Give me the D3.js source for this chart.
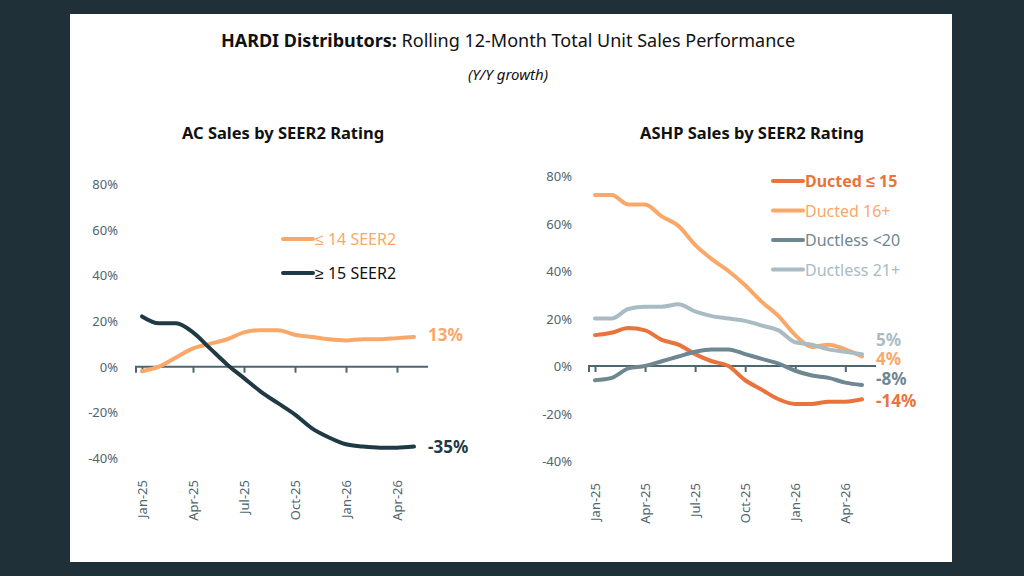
<!DOCTYPE html>
<html><head><meta charset="utf-8">
<script src="https://d3js.org/d3.v7.min.js"></script>
<style>body{margin:0;background:#1f3038;font-family:"Noto Sans",sans-serif}</style>
</head><body>
<div id="chart"></div>
<script>
var months = ["Jan-25","Feb-25","Mar-25","Apr-25","May-25","Jun-25","Jul-25","Aug-25","Sep-25","Oct-25","Nov-25","Dec-25","Jan-26","Feb-26","Mar-26","Apr-26","May-26"];
var tickMonths = ["Jan-25","Apr-25","Jul-25","Oct-25","Jan-26","Apr-26"];
var yTicks = [-40,-20,0,20,40,60,80];

// AC sales
var ac14 = [-2,0,4,8,10,12,15,16,16,14,13,12,11.5,12,12,12.5,13];
var ac15 = [22,19,19,15,8,1,-5,-11,-16,-21,-27,-31,-34,-35,-35.5,-35.5,-35];
// ASHP sales
var ducted15 = [13,14,16,15,11,9,5,2,0,-6,-10,-14,-16,-16,-15,-15,-14];
var ducted16 = [72,72,68,68,63,59,51,45,40,34,27,21,13,8,9,7,4];
var ductless20 = [-6,-5,-1,0,2,4,6,7,7,5,3,1,-2,-4,-5,-7,-8];
var ductless21 = [20,20,24,25,25,26,23,21,20,19,17,15,10,9,7,6,5];

var svg = d3.select("#chart").append("svg").attr("width",1024).attr("height",576);
svg.append("rect").attr("width",1024).attr("height",576).attr("fill","#1f3038");
svg.append("rect").attr("x",70).attr("y",14).attr("width",882).attr("height",548).attr("fill","#fff");

var title = svg.append("text").attr("x",508).attr("y",47).attr("text-anchor","middle")
  .style("font-size","18px").attr("fill","#111");
title.append("tspan").style("font-weight","bold").text("HARDI Distributors: ");
title.append("tspan").text("Rolling 12-Month Total Unit Sales Performance");
svg.append("text").attr("x",508).attr("y",80).attr("text-anchor","middle")
  .style("font-size","15px").style("font-style","italic").attr("fill","#111").text("(Y/Y growth)");

var axisCol = "#4d6670";

function panel(opt) {
  var x = d3.scalePoint().domain(months).range([opt.x0, opt.x1]);
  var y = d3.scaleLinear().domain([-40,80]).range([opt.yBottom, opt.yTop]);
  var g = svg.append("g");
  g.append("text").attr("x",opt.titleX).attr("y",139).attr("text-anchor","middle")
    .style("font-size","16.5px").style("font-weight","bold").attr("fill","#111").text(opt.title);
  g.selectAll(".yl").data(yTicks).enter().append("text")
    .attr("x",opt.yLabX).attr("y",function(d){return y(d)+5;}).attr("text-anchor","end")
    .style("font-size","13px").attr("fill",axisCol).text(function(d){return d+"%";});
  var ax = g.append("g").attr("transform","translate(0,"+y(0)+")")
    .call(d3.axisBottom(x).tickValues(tickMonths).tickSize(6).tickFormat(""));
  ax.select(".domain").attr("d","M"+(opt.x0-6)+",6V0H"+(opt.x1+14)).attr("stroke",axisCol).attr("stroke-width",2);
  ax.selectAll(".tick line").attr("stroke",axisCol).attr("stroke-width",2);
  g.selectAll(".xl").data(tickMonths).enter().append("text")
    .attr("transform",function(d){return "translate("+(x(d)+5)+","+(opt.yBottom+22)+") rotate(-90)";})
    .attr("text-anchor","end").style("font-size","13px").attr("fill",axisCol).text(function(d){return d;});
  var line = d3.line().x(function(d,i){return x(months[i]);}).y(function(d){return y(d);}).curve(d3.curveMonotoneX);
  opt.series.forEach(function(s){
    g.append("path").datum(s.values).attr("d",line).attr("fill","none")
      .attr("stroke",s.color).attr("stroke-width",4).attr("stroke-linecap","round");
    g.append("text").attr("x",opt.x1+14).attr("y",y(s.values[s.values.length-1])+s.dy+6)
      .style("font-size","17px").style("font-weight","bold").attr("fill",s.color).text(s.end);
  });
  opt.legend.forEach(function(l,i){
    var ly = opt.legY + i*opt.legStep;
    g.append("line").attr("x1",opt.legX).attr("x2",opt.legX+30).attr("y1",ly).attr("y2",ly)
      .attr("stroke",l.color).attr("stroke-width",4).attr("stroke-linecap","round");
    g.append("text").attr("x",opt.legX+32).attr("y",ly+6).style("font-size","16px").style("font-weight",l.bold?"bold":"normal")
      .attr("fill",l.textColor||l.color).text(l.name);
  });
}

panel({x0:142,x1:414,yTop:184,yBottom:458,yLabX:118,titleX:283,title:"AC Sales by SEER2 Rating",
  series:[{values:ac14,color:"#f9a869",end:"13%",dy:-2},{values:ac15,color:"#1f3a44",end:"-35%",dy:0}],
  legend:[{name:"≤ 14 SEER2",color:"#f9a869"},{name:"≥ 15 SEER2",color:"#1f3a44",textColor:"#111"}],
  legX:283,legY:239,legStep:34});

panel({x0:595,x1:862,yTop:176,yBottom:461,yLabX:572,titleX:752,title:"ASHP Sales by SEER2 Rating",
  series:[{values:ducted15,color:"#e8743b",end:"-14%",dy:2},{values:ducted16,color:"#f9a869",end:"4%",dy:2},
          {values:ductless20,color:"#6f8790",end:"-8%",dy:-6},{values:ductless21,color:"#a9bcc4",end:"5%",dy:-14}],
  legend:[{name:"Ducted ≤ 15",color:"#e8743b",bold:true},{name:"Ducted 16+",color:"#f9a869"},
          {name:"Ductless <20",color:"#6f8790"},{name:"Ductless 21+",color:"#a9bcc4"}],
  legX:773,legY:181,legStep:29.5});
</script>
</body></html>
